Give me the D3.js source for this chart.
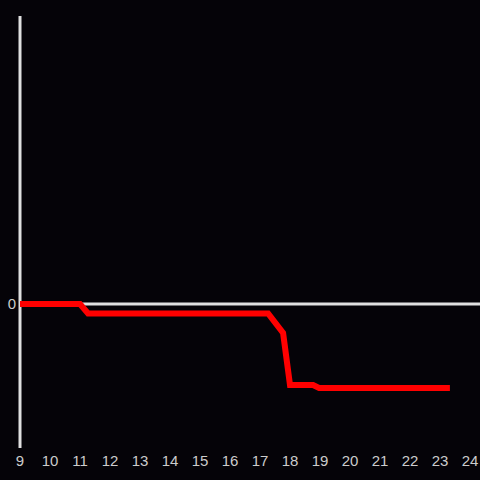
<!DOCTYPE html>
<html lang="en">
<head>
<meta charset="UTF-8">
<title>line</title>
<script src="https://cdn.jsdelivr.net/npm/d3@7/dist/d3.min.js"></script>
<style>
  html, body { margin: 0; padding: 0; background: #050308; }
  text { font-family: "Liberation Sans", Arial, sans-serif; }
</style>
</head>
<body>
<script>
    // data
    var xs = [9, 11, 11.27, 17.27, 17.77, 18.0, 18.77, 18.97, 23.33];
    var ys = [0, 0, -0.95, -0.95, -2.9, -8.1, -8.1, -8.4, -8.4];
    var xTicks = [9, 10, 11, 12, 13, 14, 15, 16, 17, 18, 19, 20, 21, 22, 23, 24];

    var width = 480, height = 480;
    var svg = d3.select("body").append("svg")
        .attr("width", width)
        .attr("height", height);

    svg.append("rect")
        .attr("width", width).attr("height", height)
        .attr("fill", "#050308");

    var x = d3.scaleLinear().domain([9, 24]).range([20, 470]);
    var y = d3.scaleLinear().domain([-14.4, 28.8]).range([448, 16]);

    // y axis line
    svg.append("line")
        .attr("x1", 20).attr("x2", 20)
        .attr("y1", 16).attr("y2", 448)
        .attr("stroke", "#e0e0e0")
        .attr("stroke-width", 3);

    // zero line
    svg.append("line")
        .attr("x1", 20).attr("x2", 480)
        .attr("y1", y(0)).attr("y2", y(0))
        .attr("stroke", "#e0e0e0")
        .attr("stroke-width", 3);

    svg.append("text")
        .attr("x", 16).attr("y", y(0))
        .attr("dy", "0.35em")
        .attr("text-anchor", "end")
        .attr("fill", "#cccccc")
        .style("font-size", "15px")
        .text("0");

    // x tick labels
    svg.selectAll(".xt")
        .data(xTicks)
        .enter()
        .append("text")
        .attr("class", "xt")
        .attr("x", function (d) { return x(d); })
        .attr("y", 466)
        .attr("text-anchor", "middle")
        .attr("fill", "#cccccc")
        .style("font-size", "15px")
        .text(function (d) { return d; });

    var pts = xs.map(function (d, i) { return [d, ys[i]]; });
    var line = d3.line()
        .x(function (d) { return x(d[0]); })
        .y(function (d) { return y(d[1]); });

    svg.append("path")
        .datum(pts)
        .attr("d", line)
        .attr("fill", "none")
        .attr("stroke", "#ff0000")
        .attr("stroke-width", 6);
</script>
</body>
</html>
